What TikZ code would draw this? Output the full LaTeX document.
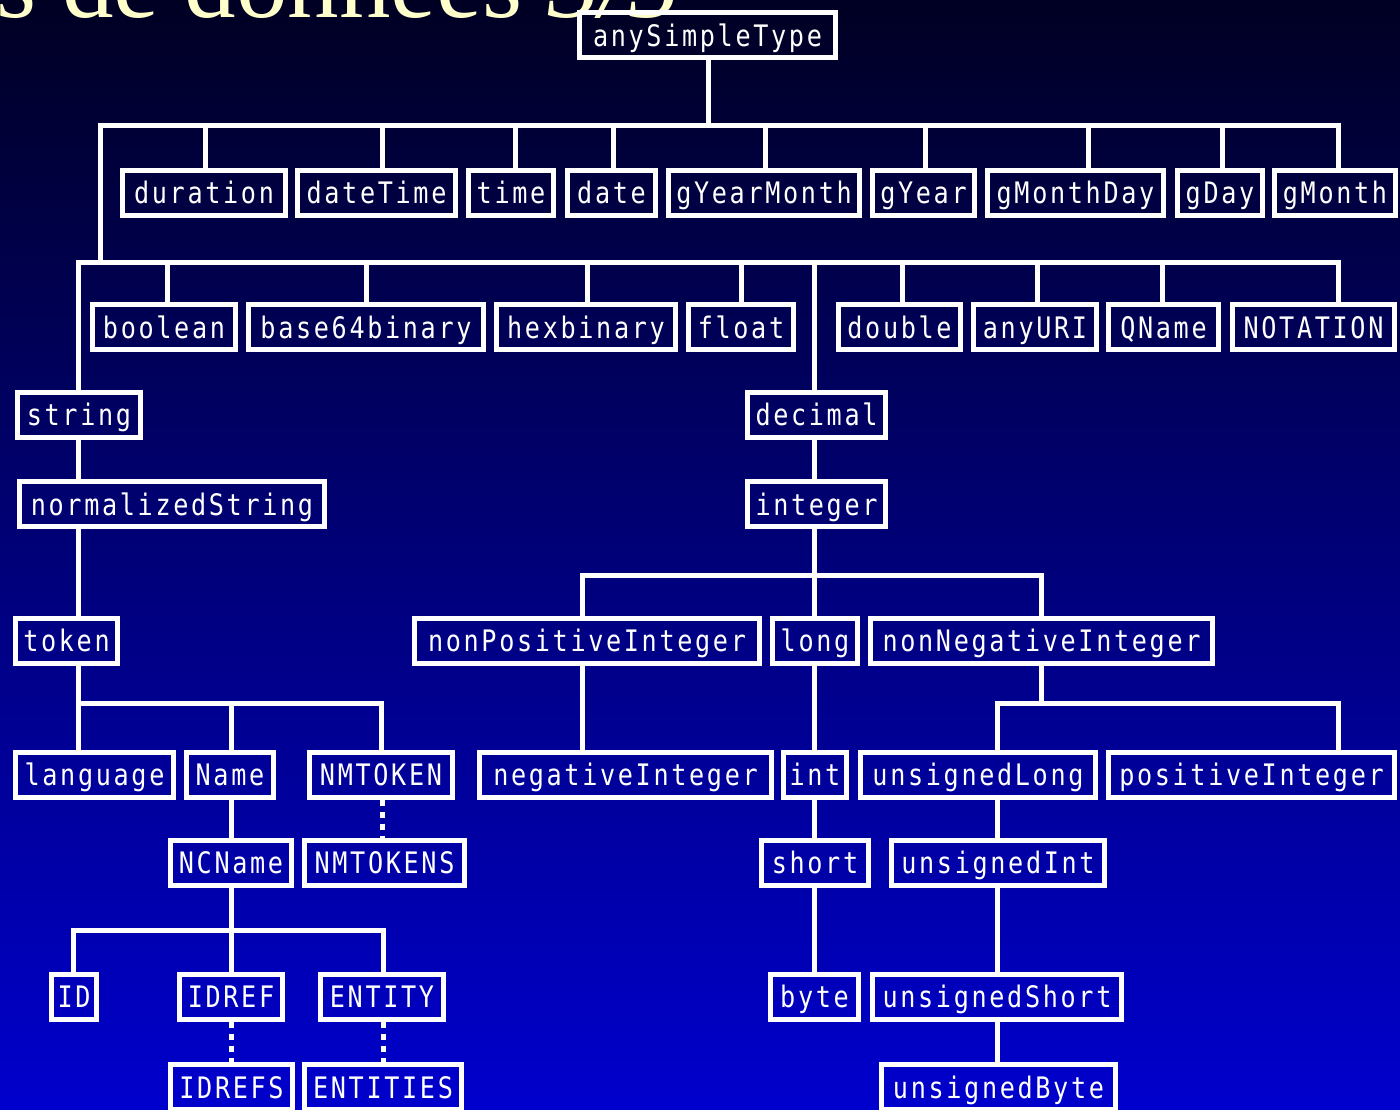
\documentclass[tikz,border=0pt]{standalone}
\usepackage{fontspec}
\setmainfont{Liberation Serif}
\newfontfamily\boxfont[FakeStretch=0.85,LetterSpace=9.0]{DejaVu Sans Mono}
\definecolor{bgtop}{RGB}{0,0,35}
\definecolor{bgbot}{RGB}{0,0,205}
\definecolor{titlecol}{RGB}{255,255,204}
\begin{document}
\begin{tikzpicture}[x=1pt,y=-1pt,
  bx/.style={draw=white, line width=5pt, minimum width=#1, minimum height=45pt,
    inner sep=0pt, text=white, font=\boxfont\fontsize{29.6}{30}\selectfont,
    text height=22pt, text depth=0pt},
  conn/.style={draw=white, line width=5pt},
  dotline/.style={draw=white, line width=5pt, dash pattern=on 6pt off 6pt}]
\useasboundingbox (0,0) rectangle (1400,1109);
\shade[top color=bgtop, bottom color=bgbot] (0,0) rectangle (1400,1109);
\node[anchor=base west, text=titlecol, font=\fontsize{103}{103}\selectfont, inner sep=0pt] (title) at (-4,17) {s de données \textit{3/5}};
% row 0
\node[bx=256] (any) at (707.5,35) {anySimpleType};
% row 1
\node[bx=163] (duration) at (204,192.5) {duration};
\node[bx=158] (dateTime) at (376.5,192.5) {dateTime};
\node[bx=85] (time) at (511,192.5) {time};
\node[bx=88] (date) at (611.5,192.5) {date};
\node[bx=191] (gYearMonth) at (764,192.5) {gYearMonth};
\node[bx=102] (gYear) at (923.5,192.5) {gYear};
\node[bx=176] (gMonthDay) at (1075.5,192.5) {gMonthDay};
\node[bx=85] (gDay) at (1220,192.5) {gDay};
\node[bx=121] (gMonth) at (1335,192.5) {gMonth};
% row 2
\node[bx=143] (boolean) at (164,327) {boolean};
\node[bx=235] (base64) at (366,327) {base64binary};
\node[bx=179] (hexbinary) at (586,327) {hexbinary};
\node[bx=105] (float) at (741,327) {float};
\node[bx=122] (double) at (899.5,327) {double};
\node[bx=123] (anyURI) at (1035,327) {anyURI};
\node[bx=110] (QName) at (1163.5,327) {QName};
\node[bx=162] (NOTATION) at (1313.5,327) {NOTATION};
% row 3-4
\node[bx=123] (string) at (79,414.5) {string};
\node[bx=138] (decimal) at (816.5,414.5) {decimal};
\node[bx=305] (normalizedString) at (172,504) {normalizedString};
\node[bx=138] (integer) at (816.5,504) {integer};
% row 5
\node[bx=102] (token) at (66.5,640.5) {token};
\node[bx=345] (nonPositiveInteger) at (587,640.5) {nonPositiveInteger};
\node[bx=85] (long) at (815,640.5) {long};
\node[bx=342] (nonNegativeInteger) at (1041.5,640.5) {nonNegativeInteger};
% row 6
\node[bx=158] (language) at (94.5,774.5) {language};
\node[bx=87] (Name) at (230,774.5) {Name};
\node[bx=143] (NMTOKEN) at (381,774.5) {NMTOKEN};
\node[bx=292] (negativeInteger) at (625.5,774.5) {negativeInteger};
\node[bx=63] (int) at (815,774.5) {int};
\node[bx=235] (unsignedLong) at (978,774.5) {unsignedLong};
\node[bx=286] (positiveInteger) at (1251.5,774.5) {positiveInteger};
% row 7
\node[bx=121] (NCName) at (231,862.5) {NCName};
\node[bx=160] (NMTOKENS) at (384.5,862.5) {NMTOKENS};
\node[bx=107] (short) at (815,862.5) {short};
\node[bx=213] (unsignedInt) at (998,862.5) {unsignedInt};
% row 8
\node[bx=45] (ID) at (74,996.5) {ID};
\node[bx=103] (IDREF) at (231,996.5) {IDREF};
\node[bx=123] (ENTITY) at (382,996.5) {ENTITY};
\node[bx=88] (byte) at (814.5,996.5) {byte};
\node[bx=249] (unsignedShort) at (997,996.5) {unsignedShort};
% row 9
\node[bx=122] (IDREFS) at (231.5,1087) {IDREFS};
\node[bx=157] (ENTITIES) at (383,1087) {ENTITIES};
\node[bx=234] (unsignedByte) at (998.5,1087) {unsignedByte};

% junctions
\coordinate (j0) at (708,125);
\coordinate (j1) at (100,262);
\coordinate (j2) at (78,703);
\coordinate (j3) at (231,930);
\coordinate (j4) at (814,575);
\coordinate (j5) at (1041,703);

\draw[conn] (708,0 |- any.south) -- (j0);
\draw[conn] (j0) -| (205,0 |- duration.north);
\draw[conn] (j0) -| (382,0 |- dateTime.north);
\draw[conn] (j0) -| (515,0 |- time.north);
\draw[conn] (j0) -| (613,0 |- date.north);
\draw[conn] (j0) -| (765,0 |- gYearMonth.north);
\draw[conn] (j0) -| (925,0 |- gYear.north);
\draw[conn] (j0) -| (1088,0 |- gMonthDay.north);
\draw[conn] (j0) -| (1222,0 |- gDay.north);
\draw[conn] (j0) -| (1338,0 |- gMonth.north);
\draw[conn] (j0) -| (j1);

\draw[conn] (j1) -| (78,0 |- string.north);
\draw[conn] (j1) -| (167,0 |- boolean.north);
\draw[conn] (j1) -| (366,0 |- base64.north);
\draw[conn] (j1) -| (587,0 |- hexbinary.north);
\draw[conn] (j1) -| (741,0 |- float.north);
\draw[conn] (j1) -| (814,0 |- decimal.north);
\draw[conn] (j1) -| (902,0 |- double.north);
\draw[conn] (j1) -| (1037,0 |- anyURI.north);
\draw[conn] (j1) -| (1162,0 |- QName.north);
\draw[conn] (j1) -| (1338,0 |- NOTATION.north);

% string branch
\draw[conn] (78,0 |- string.south) -- (78,0 |- normalizedString.north);
\draw[conn] (78,0 |- normalizedString.south) -- (78,0 |- token.north);
\draw[conn] (78,0 |- token.south) -- (j2);
\draw[conn] (j2) -- (78,0 |- language.north);
\draw[conn] (j2) -| (231,0 |- Name.north);
\draw[conn] (j2) -| (381,0 |- NMTOKEN.north);
\draw[conn] (231,0 |- Name.south) -- (231,0 |- NCName.north);
\draw[dotline] (382,0 |- NMTOKEN.south) -- (382,0 |- NMTOKENS.north);
\draw[conn] (231,0 |- NCName.south) -- (j3);
\draw[conn] (j3) -| (73,0 |- ID.north);
\draw[conn] (j3) -- (231,0 |- IDREF.north);
\draw[conn] (j3) -| (383,0 |- ENTITY.north);
\draw[dotline] (231,0 |- IDREF.south) -- (231,0 |- IDREFS.north);
\draw[dotline] (383,0 |- ENTITY.south) -- (383,0 |- ENTITIES.north);

% decimal branch
\draw[conn] (814,0 |- decimal.south) -- (814,0 |- integer.north);
\draw[conn] (814,0 |- integer.south) -- (j4);
\draw[conn] (j4) -| (582,0 |- nonPositiveInteger.north);
\draw[conn] (j4) -- (814,0 |- long.north);
\draw[conn] (j4) -| (1041,0 |- nonNegativeInteger.north);
\draw[conn] (582,0 |- nonPositiveInteger.south) -- (582,0 |- negativeInteger.north);
\draw[conn] (814,0 |- long.south) -- (814,0 |- int.north);
\draw[conn] (814,0 |- int.south) -- (814,0 |- short.north);
\draw[conn] (814,0 |- short.south) -- (814,0 |- byte.north);
\draw[conn] (1041,0 |- nonNegativeInteger.south) -- (j5);
\draw[conn] (j5) -| (997,0 |- unsignedLong.north);
\draw[conn] (j5) -| (1338,0 |- positiveInteger.north);
\draw[conn] (997,0 |- unsignedLong.south) -- (997,0 |- unsignedInt.north);
\draw[conn] (997,0 |- unsignedInt.south) -- (997,0 |- unsignedShort.north);
\draw[conn] (997,0 |- unsignedShort.south) -- (997,0 |- unsignedByte.north);
\end{tikzpicture}
\end{document}
